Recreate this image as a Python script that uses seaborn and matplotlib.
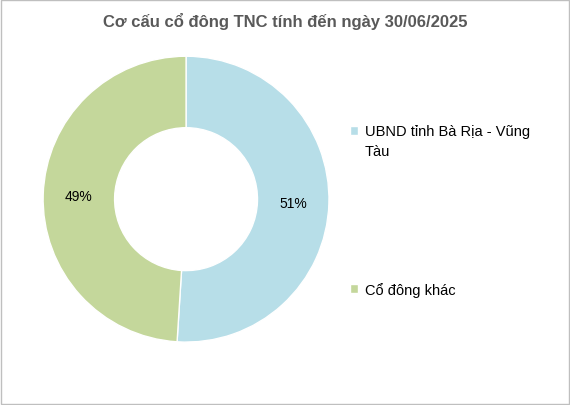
import matplotlib
matplotlib.use("Agg")
import matplotlib.pyplot as plt
import seaborn as sns
from matplotlib.patches import Rectangle

sns.set_theme(style="white")
plt.rcParams['font.family'] = ['Liberation Sans', 'DejaVu Sans']

labels = ["UBND tỉnh Bà Rịa - Vũng\nTàu", "Cổ đông khác"]
values = [51, 49]
colors = ["#B7DEE8", "#C4D79B"]
title = "Cơ cấu cổ đông TNC tính đến ngày 30/06/2025"

fig = plt.figure(figsize=(5.7, 4.06), dpi=100)
fig.patches.append(Rectangle((0.002, 0.002), 0.996, 0.996, transform=fig.transFigure,
                             fill=False, edgecolor="#BFBFBF", linewidth=1))
fig.text(0.5, 0.948, title, ha="center", va="center", fontsize=12,
         fontweight="bold", color="#595959")

ax = fig.add_axes([0.0754, 0.155, 0.502, 0.704])
ax.pie(values, colors=colors, startangle=90, counterclock=False,
       wedgeprops=dict(width=0.5, edgecolor="white", linewidth=1),
       autopct="%d%%", pctdistance=0.75,
       textprops=dict(fontsize=10, color="black"))
ax.set_xlim(-1, 1)
ax.set_ylim(-1, 1)
ax.set_aspect("equal")

ys = [0.677, 0.288]
for lab, col, y in zip(labels, colors, ys):
    fig.patches.append(Rectangle((0.614, y - 0.012), 0.014, 0.022,
                                 transform=fig.transFigure, facecolor=col))
    fig.text(0.64, y + 0.014, lab, ha="left", va="top", fontsize=10.5,
             color="black", linespacing=1.5)

fig.savefig("out.png", dpi=100)
